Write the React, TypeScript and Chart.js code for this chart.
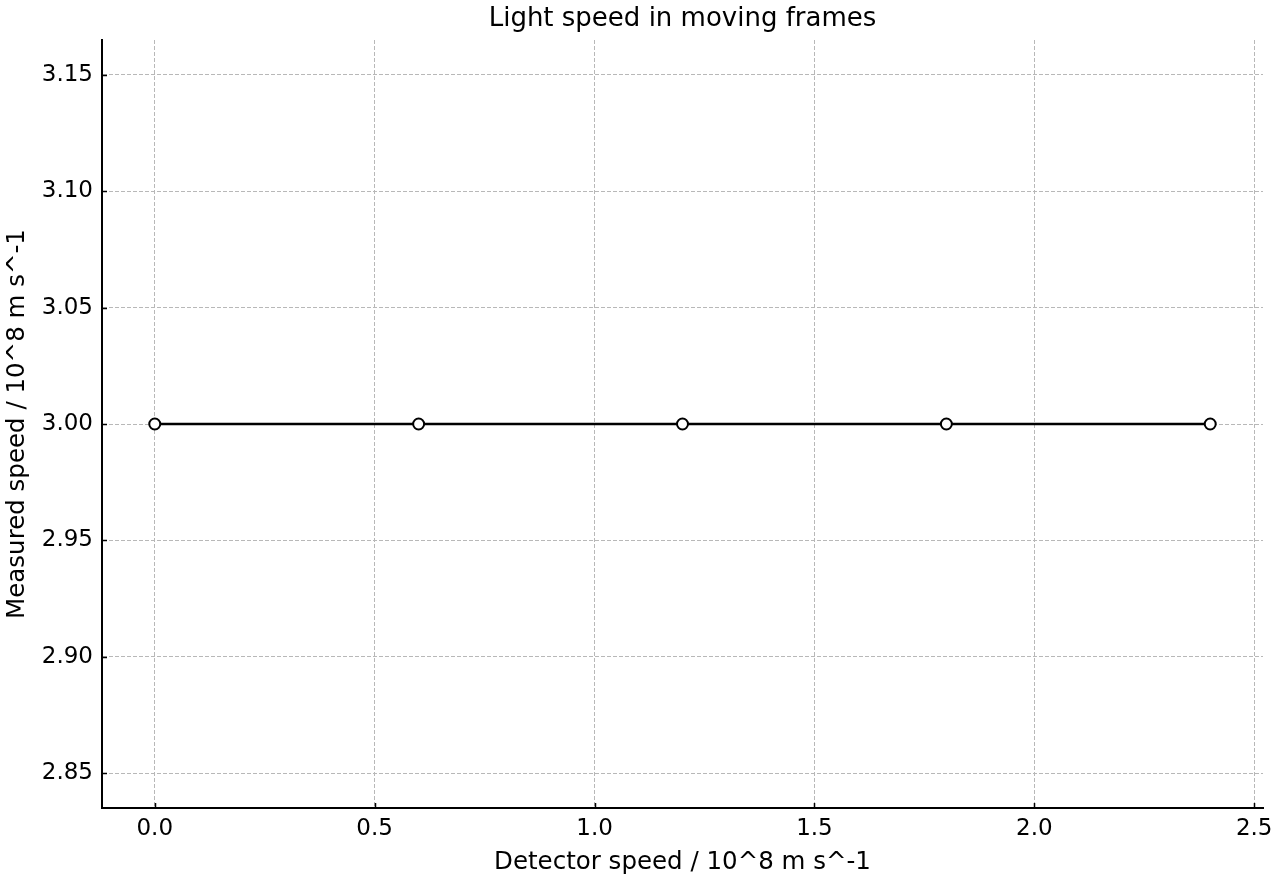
import React, { useEffect, useRef } from "react";
import { Chart, registerables } from "chart.js";

Chart.register(...registerables);

const detectorSpeed = [0.0, 0.6, 1.2, 1.8, 2.4];
const measuredSpeed = [3.0, 3.0, 3.0, 3.0, 3.0];
const xTicks = [0.0, 0.5, 1.0, 1.5, 2.0, 2.5];
const yTicks = [2.85, 2.9, 2.95, 3.0, 3.05, 3.1, 3.15];

const chartTitle = "Light speed in moving frames";
const xTitle = "Detector speed / 10^8 m s^-1";
const yTitle = "Measured speed / 10^8 m s^-1";

const FONT = "'DejaVu Sans', sans-serif";

const inwardTicks = {
  id: "inwardTicks",
  afterDraw(chart: any) {
    const ctx = chart.ctx;
    const xs = chart.scales.x;
    const ys = chart.scales.y;
    const area = chart.chartArea;
    ctx.save();
    ctx.strokeStyle = "#000";
    ctx.lineWidth = 1.5;
    ctx.beginPath();
    xTicks.forEach((v) => {
      const px = Math.round(xs.getPixelForValue(v)) + 0.5;
      ctx.moveTo(px, area.bottom);
      ctx.lineTo(px, area.bottom - 5);
    });
    yTicks.forEach((v) => {
      const py = Math.round(ys.getPixelForValue(v)) + 0.5;
      ctx.moveTo(area.left, py);
      ctx.lineTo(area.left + 5, py);
    });
    ctx.stroke();
    // title centered over the plot area
    ctx.fillStyle = "#000";
    ctx.font = `26px ${FONT}`;
    ctx.textAlign = "center";
    ctx.textBaseline = "middle";
    ctx.fillText(chartTitle, (area.left + area.right) / 2, 19);
    ctx.restore();
  },
};

export default function App() {
  const ref = useRef<HTMLCanvasElement | null>(null);
  useEffect(() => {
    document.body.style.margin = "0";
    const chart = new Chart(ref.current as HTMLCanvasElement, {
      type: "line",
      data: {
        datasets: [
          {
            data: detectorSpeed.map((x, i) => ({ x, y: measuredSpeed[i] })),
            borderColor: "#000",
            borderWidth: 2.5,
            pointBackgroundColor: "#fff",
            pointBorderColor: "#000",
            pointBorderWidth: 2,
            pointRadius: 5.5,
            tension: 0,
          },
        ],
      },
      options: {
        animation: false,
        responsive: false,
        layout: { padding: { left: 0, right: 17, top: 40, bottom: 0 } },
        plugins: {
          legend: { display: false },
          tooltip: { enabled: false },
          title: { display: false },
        },
        scales: {
          x: {
            type: "linear",
            min: -0.12,
            max: 2.52,
            afterBuildTicks: (s: any) => {
              s.ticks = xTicks.map((v) => ({ value: v }));
            },
            afterFit: (s: any) => {
              s.height = 72;
            },
            ticks: {
              color: "#000",
              font: { family: FONT, size: 23 },
              padding: 7,
              maxRotation: 0,
              callback: (v: any) => Number(v).toFixed(1),
            },
            grid: {
              color: "#b8b8b8",
              lineWidth: 1,
              drawTicks: false,
              tickLength: 0,
            },
            border: { display: true, color: "#000", width: 2, dash: [4, 2] },
            title: {
              display: true,
              text: xTitle,
              color: "#000",
              font: { family: FONT, size: 24.5 },
              padding: { top: 2, bottom: 3 },
            },
          },
          y: {
            type: "linear",
            min: 2.835,
            max: 3.165,
            afterBuildTicks: (s: any) => {
              s.ticks = yTicks.map((v) => ({ value: v }));
            },
            afterFit: (s: any) => {
              s.width = 102;
            },
            ticks: {
              color: "#000",
              font: { family: FONT, size: 23 },
              padding: 9,
              callback: (v: any) => Number(v).toFixed(2),
            },
            grid: {
              color: "#b8b8b8",
              lineWidth: 1,
              drawTicks: false,
              tickLength: 0,
            },
            border: { display: true, color: "#000", width: 2, dash: [4, 2] },
            title: {
              display: true,
              text: yTitle,
              color: "#000",
              font: { family: FONT, size: 24.5 },
              padding: { top: 2.5, bottom: 4 },
            },
          },
        },
      } as any,
      plugins: [inwardTicks],
    });
    return () => chart.destroy();
  }, []);
  return (
    <div style={{ position: "absolute", left: 0, top: 0, width: 1280, height: 880 }}>
      <canvas ref={ref} width={1280} height={880} style={{ width: 1280, height: 880 }} />
    </div>
  );
}
